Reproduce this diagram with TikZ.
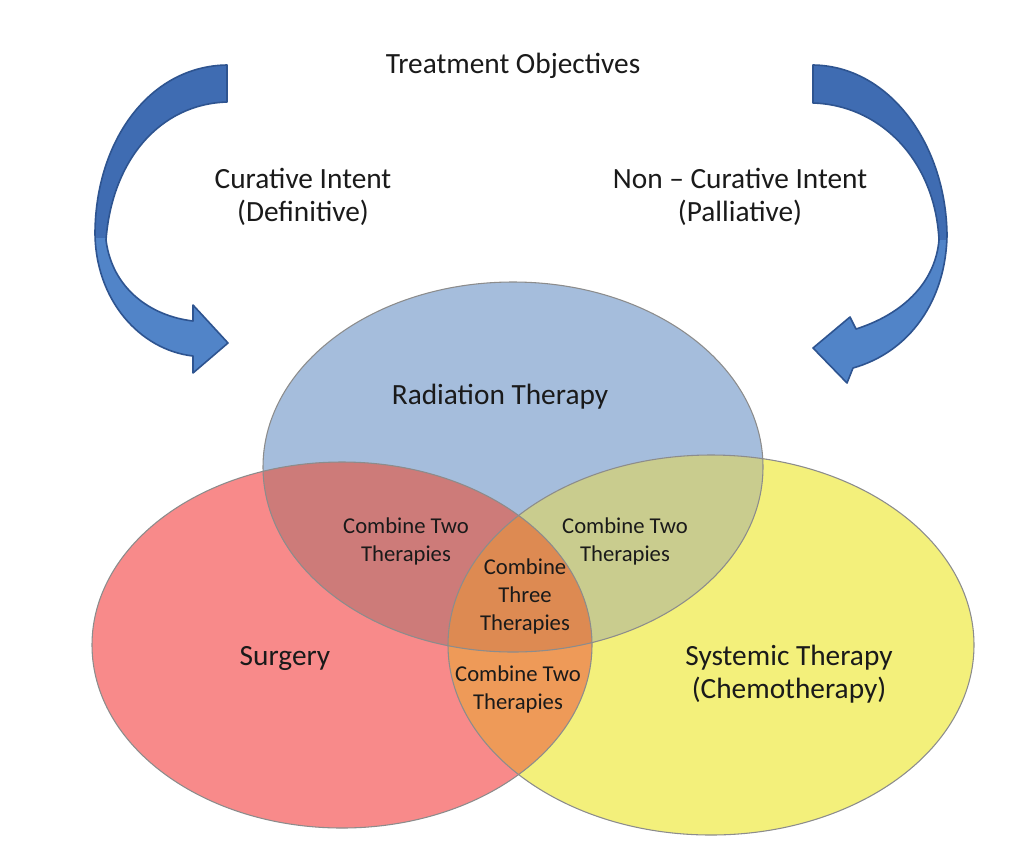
\documentclass[tikz,border=0pt]{standalone}
\usepackage{fontspec}
\setmainfont{Carlito}
\definecolor{radblue}{HTML}{A5BDDC}
\definecolor{surgred}{HTML}{F88A8A}
\definecolor{chemyel}{HTML}{F3F07B}
\definecolor{rbmix}{HTML}{CD7B79}
\definecolor{bymix}{HTML}{C9CC8E}
\definecolor{rymix}{HTML}{EE9A58}
\definecolor{allmix}{HTML}{DD8A52}
\definecolor{edgegray}{HTML}{8C8C8C}
\definecolor{arrowfill}{HTML}{3F6CB2}
\definecolor{arrowlight}{HTML}{5184C8}
\definecolor{arrowedge}{HTML}{2E5490}
\definecolor{txt}{HTML}{1A1A1A}
\tikzset{
  biglabel/.style={align=center, text=txt, font=\fontsize{22}{25}\selectfont, inner sep=0pt},
  smalllabel/.style={align=center, text=txt, font=\fontsize{17}{21}\selectfont, inner sep=0pt},
  arrowoutline/.style={draw=arrowedge, line width=1.2pt, line join=round},
  vennedge/.style={draw=edgegray, line width=0.8pt}
}
\newcommand{\radpath}{(513,467) ellipse [x radius=250, y radius=185]}
\newcommand{\surgpath}{(342,645) ellipse [x radius=250, y radius=183]}
\newcommand{\chempath}{(711,645) ellipse [x radius=263, y radius=190]}
\newcommand{\leftarrowpath}{(227,65) .. controls (150,66) and (96,140) .. (95,232)
  .. controls (95,300) and (140,350) .. (193,356)
  -- (193,373) -- (228,343) -- (193,305) -- (193,321)
  .. controls (150,316) and (112,288) .. (106,240)
  .. controls (112,160) and (160,104) .. (227,102) -- cycle}
\newcommand{\rightarrowpath}{(813,65) .. controls (890,66) and (946,145) .. (947,235)
  .. controls (946,300) and (910,352) .. (853,368)
  -- (847,383) -- (813,348) -- (850,317) -- (856,329)
  .. controls (900,315) and (935,285) .. (939,240)
  .. controls (935,160) and (880,105) .. (813,103) -- cycle}
\begin{document}
\begin{tikzpicture}[x=0.75pt,y=-0.75pt]
\useasboundingbox (0,0) rectangle (1024,851);
\fill[white] (0,0) rectangle (1024,851);
% base fills
\fill[radblue] \radpath;
\fill[surgred] \surgpath;
\fill[chemyel] \chempath;
% pairwise overlaps
\begin{scope}\clip \surgpath; \fill[rbmix] \radpath; \end{scope}
\begin{scope}\clip \radpath; \fill[bymix] \chempath; \end{scope}
\begin{scope}\clip \surgpath; \fill[rymix] \chempath; \end{scope}
\begin{scope}\clip \surgpath; \clip \radpath; \fill[allmix] \chempath; \end{scope}
% outlines
\path[vennedge] \radpath;
\path[vennedge] \surgpath;
\path[vennedge] \chempath;
% left curved arrow (two-tone ribbon)
\fill[arrowfill] \leftarrowpath;
\begin{scope}\clip (0,238) rectangle (1024,400); \fill[arrowlight] \leftarrowpath; \end{scope}
\path[arrowoutline] \leftarrowpath;
% right curved arrow (two-tone ribbon)
\fill[arrowfill] \rightarrowpath;
\begin{scope}\clip (0,240) rectangle (1024,400); \fill[arrowlight] \rightarrowpath; \end{scope}
\path[arrowoutline] \rightarrowpath;
% labels
\node[biglabel] (title) at (513,66) {Treatment Objectives};
\node[biglabel] (cur) at (303,197) {Curative Intent\\(Definitive)};
\node[biglabel] (noncur) at (740,197) {Non – Curative Intent\\(Palliative)};
\node[biglabel] (rad) at (500,397) {Radiation Therapy};
\node[biglabel] (surg) at (285,658) {Surgery};
\node[biglabel] (chem) at (789,674) {Systemic Therapy\\(Chemotherapy)};
\node[smalllabel] (rb) at (406,541) {Combine Two\\Therapies};
\node[smalllabel] (by) at (625,541) {Combine Two\\Therapies};
\node[smalllabel] (all) at (525,596) {Combine\\Three\\Therapies};
\node[smalllabel] (ry) at (518,689) {Combine Two\\Therapies};
\end{tikzpicture}
\end{document}
